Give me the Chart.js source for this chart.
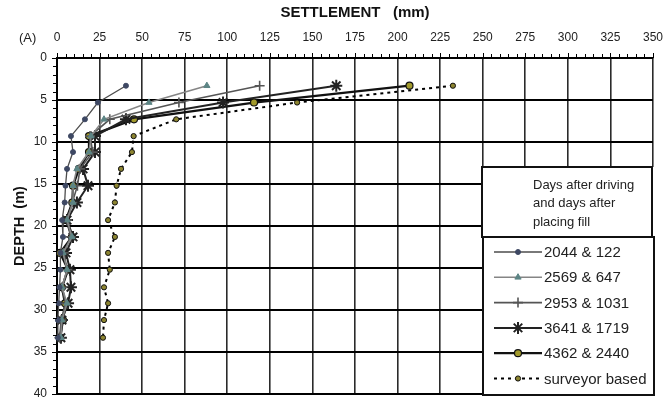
<!DOCTYPE html>
<html>
<head>
<meta charset="utf-8">
<script src="https://cdn.jsdelivr.net/npm/chart.js@4/dist/chart.umd.min.js"></script>
<style>
  html, body { margin: 0; padding: 0; background: #fff; }
  #wrap { width: 669px; height: 397px; }
</style>
</head>
<body>
<div id="wrap"><canvas id="settle_chart" width="669" height="397"></canvas></div>
<script>
// depths (m) where settlement was measured
var depths = [3.3, 5.3, 7.3, 9.3, 11.2, 13.2, 15.2, 17.2, 19.3, 21.3, 23.2, 25.2, 27.3, 29.2, 31.2, 33.3];

// settlement (mm) for each survey
var s_2044 = [40.5, 24, 16.4, 8.2, 9.4, 5.9, 5, 4.5, 3, 3.5, 2, 2, 1.5, 1, 0.5, 0.5];
var s_2569 = [88, 54, 27.6, 20, 18.8, 11.7, 9.4, 9.4, 5.9, 8.8, 3.5, 5.9, 2.9, 5.9, 2.9, 2.3];
var s_2953 = [119, 71.6, 31, 19.4, 21, 13.5, 12, 9, 6, 8, 4, 6, 3, 5, 2.5, 1.5];
var s_3641 = [164, 97.5, 40.5, 22.3, 22.3, 15.3, 18.2, 11.7, 5.9, 9.4, 5.3, 7.6, 8.2, 6.5, 2.9, 2.3];
var s_4362 = [207, 115.7, 45.2, 18.8, 18.8, 12.9, 9.4, 9, 5.3, 8.8, 1.8, 6.5, 2.9, 4.7, 3.5, 1.8];
var s_survey = [232.5, 141, 70, 45, 44, 37.6, 35, 34, 30, 34, 30, 31, 27.6, 30, 27.6, 27];

var seriesLabels = ['2044 & 122', '2569 & 647', '2953 & 1031', '3641 & 1719', '4362 & 2440', 'surveyor based'];
var legendTitle = ['Days after driving', 'and days after', 'placing fill'];

var xTicks = { min: 0, max: 350, step: 25 };
var yTicks = { min: 0, max: 40, step: 5 };

const FONT = '"Liberation Sans", Arial, sans-serif';

function pts(values) {
    return values.map(function(v, i) { return { x: v, y: depths[i] }; });
}

// -------------------
// SERIES STYLES
// -------------------
const styles = [
    { line: '#4d4d4d', width: 1.3, point: 'circle', r: 2.5, fill: '#3e4863', stroke: '#3e4863', pw: 1 },
    { line: '#858585', width: 1.6, point: 'triangle', r: 3.6, fill: '#5d8585', stroke: '#5d8585', pw: 1 },
    { line: '#555555', width: 1.6, point: 'cross', r: 5, fill: '#555555', stroke: '#555555', pw: 1.6 },
    { line: '#222222', width: 2, point: 'star', r: 6, fill: '#222222', stroke: '#222222', pw: 2 },
    { line: '#111111', width: 2.3, point: 'circle', r: 3.5, fill: '#a29a2c', stroke: '#111111', pw: 1.2 },
    { line: '#000000', width: 2, point: 'circle', r: 2.6, fill: '#8c8430', stroke: '#111111', pw: 1, dash: [3, 4] },
];
const allSeries = [s_2044, s_2569, s_2953, s_3641, s_4362, s_survey];

var datasets = allSeries.map(function(vals, i) {
    var st = styles[i];
    return {
        label: seriesLabels[i],
        data: pts(vals),
        showLine: true,
        tension: 0,
        borderColor: st.line,
        borderWidth: st.width,
        borderDash: st.dash || [],
        pointStyle: st.point,
        pointRadius: st.r,
        pointBackgroundColor: st.fill,
        pointBorderColor: st.stroke,
        pointBorderWidth: st.pw,
        clip: 8,
    };
});

// kill the label overflow padding so the plot box sits where the layout says
function noPad(scale) {
    scale.paddingLeft = 0;
    scale.paddingRight = 0;
    scale.paddingTop = 0;
    scale.paddingBottom = 0;
}

// minor ticks, (A) label and the boxed legend
const extras = {
    id: 'extras',
    afterDraw(chart) {
        const ctx = chart.ctx;
        const a = chart.chartArea;
        const x = chart.scales.x, y = chart.scales.y;
        ctx.save();
        ctx.strokeStyle = '#000';
        ctx.lineWidth = 1;
        for (var v = xTicks.min; v <= xTicks.max; v += 5) {
            var px = Math.round(x.getPixelForValue(v)) + 0.5;
            ctx.beginPath();
            ctx.moveTo(px, a.top);
            ctx.lineTo(px, a.top - (v % 25 ? 4 : 5));
            ctx.stroke();
        }
        for (var d = yTicks.min; d <= yTicks.max; d += 1) {
            var py = Math.round(y.getPixelForValue(d)) + 0.5;
            ctx.beginPath();
            ctx.moveTo(a.left, py);
            ctx.lineTo(a.left - (d % 5 ? 4 : 5), py);
            ctx.stroke();
        }

        ctx.fillStyle = '#222';
        ctx.font = '13px ' + FONT;
        ctx.textAlign = 'left';
        ctx.textBaseline = 'middle';
        ctx.fillText('(A)', 19, 38);

        // legend boxes
        ctx.fillStyle = '#fff';
        ctx.fillRect(482, 167, 172, 229);
        ctx.strokeStyle = '#111';
        ctx.lineWidth = 2;
        ctx.strokeRect(482, 167, 170, 70);
        ctx.strokeRect(483, 237, 171, 158);

        ctx.fillStyle = '#222';
        ctx.font = '13px ' + FONT;
        legendTitle.forEach(function(t, i) {
            ctx.fillText(t, 533, 185 + i * 18.5);
        });

        ctx.font = '15px ' + FONT;
        styles.forEach(function(st, i) {
            var ly = 252 + i * 25.3;
            ctx.strokeStyle = st.line;
            ctx.lineWidth = st.width;
            ctx.setLineDash(st.dash || []);
            ctx.beginPath();
            ctx.moveTo(494, ly);
            ctx.lineTo(542, ly);
            ctx.stroke();
            ctx.setLineDash([]);
            ctx.fillStyle = st.fill;
            ctx.strokeStyle = st.stroke;
            ctx.lineWidth = st.pw;
            Chart.helpers.drawPoint(ctx, { pointStyle: st.point, radius: st.r, rotation: 0, borderWidth: st.pw }, 518, ly);
            ctx.fillStyle = '#222';
            ctx.fillText(seriesLabels[i], 544, ly + 1);
        });
        ctx.restore();
    }
};

Chart.defaults.font.family = FONT;
Chart.defaults.color = '#222';

var ctx = document.getElementById('settle_chart').getContext('2d');
var myChart = new Chart(ctx, {
    type: 'scatter',
    data: { datasets: datasets },
    options: {
        responsive: false,
        animation: false,
        devicePixelRatio: 1,
        layout: { autoPadding: false, padding: { left: 0, top: 0, right: 16, bottom: 3 } },
        plugins: {
            legend: { display: false },
            tooltip: { enabled: false },
        },
        scales: {
            x: {
                type: 'linear',
                position: 'top',
                min: xTicks.min,
                max: xTicks.max,
                afterFit: function(scale) { scale.height = 58; noPad(scale); },
                ticks: {
                    stepSize: xTicks.step,
                    padding: 13,
                    font: { size: 12 },
                    color: '#222',
                },
                grid: {
                    color: '#2a2a2a',
                    lineWidth: 1.6,
                    drawTicks: false,
                },
                border: { display: true, color: '#000', width: 2 },
                title: {
                    display: true,
                    text: 'SETTLEMENT   (mm)',
                    font: { size: 15, weight: 'bold' },
                    color: '#111',
                    padding: { top: 4, bottom: 0 },
                },
            },
            y: {
                type: 'linear',
                reverse: true,
                min: yTicks.min,
                max: yTicks.max,
                afterFit: function(scale) { scale.width = 57; noPad(scale); },
                ticks: {
                    stepSize: yTicks.step,
                    padding: 10,
                    font: { size: 12 },
                    color: '#222',
                },
                grid: {
                    color: '#000',
                    lineWidth: 2,
                    drawTicks: false,
                },
                border: { display: true, color: '#000', width: 2 },
                title: {
                    display: true,
                    text: 'DEPTH  (m)',
                    font: { size: 14.5, weight: 'bold' },
                    color: '#111',
                    padding: { top: 11, bottom: 0 },
                },
            },
        },
    },
    plugins: [extras],
});
</script>
</body>
</html>
